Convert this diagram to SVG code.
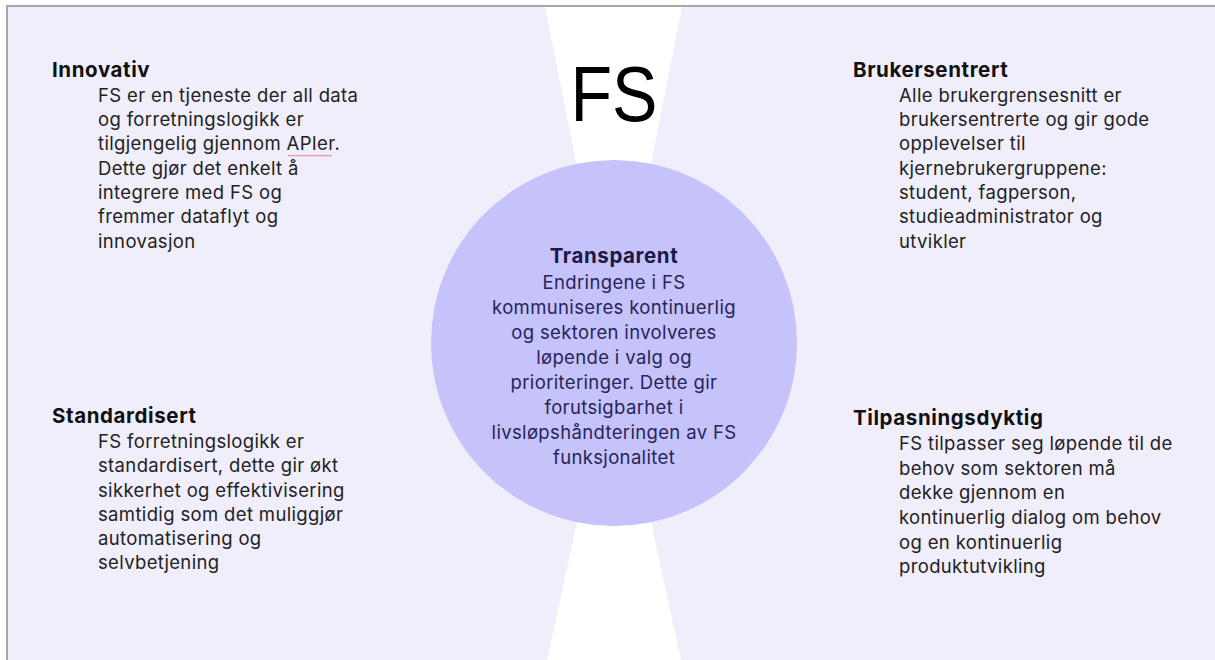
<svg xmlns="http://www.w3.org/2000/svg" width="1215" height="660" viewBox="0 0 1215 660">
<style>
.h{font-family:Inter,"Noto Sans",sans-serif;font-weight:700;font-size:20.5px;letter-spacing:0.6px;fill:#111}
.b{font-family:Inter,"Noto Sans",sans-serif;font-size:18.5px;letter-spacing:0.35px;fill:#222}
.ch{font-family:Inter,"Noto Sans",sans-serif;font-weight:700;font-size:20.5px;letter-spacing:0.6px;fill:#1c1848;text-anchor:middle}
.cb{font-family:Inter,"Noto Sans",sans-serif;font-size:18.5px;letter-spacing:0.35px;fill:#28245a;text-anchor:middle}
</style>
<rect x="0" y="0" width="1215" height="660" fill="#ffffff"/>
<rect x="7" y="6" width="1208" height="654" fill="#f0eefb"/>
<path d="M545,7 L682,7 L614,352 Z" fill="#ffffff"/>
<path d="M614,352 L681,660 L547,660 Z" fill="#ffffff"/>
<path d="M7,660 L7,6 L1215,6" fill="none" stroke="#a8a6a8" stroke-width="2"/>
<g id="fs-title">
<text x="614" y="121" font-family="'Liberation Sans',Arial,sans-serif" font-size="77" text-anchor="middle" textLength="87" lengthAdjust="spacingAndGlyphs" fill="#000">FS</text>
</g>
<g id="transparent">
<circle cx="614" cy="343" r="183" fill="#c5c3fa"/>
<text class="ch" x="614" y="263">Transparent</text>
<text class="cb" x="614" y="289">Endringene i FS</text>
<text class="cb" x="614" y="314">kommuniseres kontinuerlig</text>
<text class="cb" x="614" y="339">og sektoren involveres</text>
<text class="cb" x="614" y="364">løpende i valg og</text>
<text class="cb" x="614" y="389">prioriteringer. Dette gir</text>
<text class="cb" x="614" y="414">forutsigbarhet i</text>
<text class="cb" x="614" y="439">livsløpshåndteringen av FS</text>
<text class="cb" x="614" y="464">funksjonalitet</text>
</g>
<g id="innovativ">
<text class="h" x="52" y="77">Innovativ</text>
<text class="b" x="98" y="102">FS er en tjeneste der all data</text>
<text class="b" x="98" y="126">og forretningslogikk er</text>
<text class="b" x="98" y="150">tilgjengelig gjennom APIer.</text>
<path d="M288,155 l2,1.2 l2,-1.2 l2,1.2 l2,-1.2 l2,1.2 l2,-1.2 l2,1.2 l2,-1.2 l2,1.2 l2,-1.2 l2,1.2 l2,-1.2 l2,1.2 l2,-1.2 l2,1.2 l2,-1.2 l2,1.2 l2,-1.2 l2,1.2 l2,-1.2 l2,1.2 l2,-1.2" fill="none" stroke="#e07070" stroke-width="0.9"/>
<text class="b" x="98" y="175">Dette gjør det enkelt å</text>
<text class="b" x="98" y="199">integrere med FS og</text>
<text class="b" x="98" y="223">fremmer dataflyt og</text>
<text class="b" x="98" y="248">innovasjon</text>
</g>
<g id="brukersentrert">
<text class="h" x="853" y="77">Brukersentrert</text>
<text class="b" x="899" y="102">Alle brukergrensesnitt er</text>
<text class="b" x="899" y="126">brukersentrerte og gir gode</text>
<text class="b" x="899" y="150">opplevelser til</text>
<text class="b" x="899" y="175">kjernebrukergruppene:</text>
<text class="b" x="899" y="199">student, fagperson,</text>
<text class="b" x="899" y="223">studieadministrator og</text>
<text class="b" x="899" y="248">utvikler</text>
</g>
<g id="standardisert">
<text class="h" x="52" y="423">Standardisert</text>
<text class="b" x="98" y="448">FS forretningslogikk er</text>
<text class="b" x="98" y="472">standardisert, dette gir økt</text>
<text class="b" x="98" y="497">sikkerhet og effektivisering</text>
<text class="b" x="98" y="521">samtidig som det muliggjør</text>
<text class="b" x="98" y="545">automatisering og</text>
<text class="b" x="98" y="569">selvbetjening</text>
</g>
<g id="tilpasningsdyktig">
<text class="h" x="853" y="425">Tilpasningsdyktig</text>
<text class="b" x="899" y="450">FS tilpasser seg løpende til de</text>
<text class="b" x="899" y="475">behov som sektoren må</text>
<text class="b" x="899" y="499">dekke gjennom en</text>
<text class="b" x="899" y="524">kontinuerlig dialog om behov</text>
<text class="b" x="899" y="549">og en kontinuerlig</text>
<text class="b" x="899" y="573">produktutvikling</text>
</g>
<g id="connectors"></g>
</svg>
